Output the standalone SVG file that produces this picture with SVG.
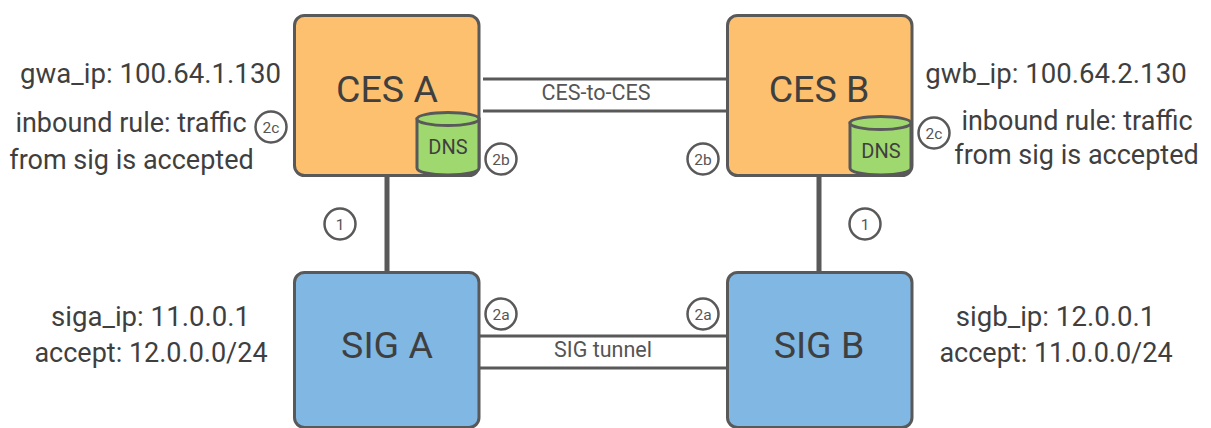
<svg xmlns="http://www.w3.org/2000/svg" width="1211" height="428" viewBox="0 0 1211 428">
<style>
text{font-family:"Roboto","Liberation Sans",sans-serif;fill:#3f3f3f;text-anchor:middle}
.box{stroke:#595959;stroke-width:3}
.ces{fill:#fdc06f}.sig{fill:#80b7e3}
.t{font-size:37.500px}
.l{font-size:27px}
.w{font-size:27.600px}
.c{font-size:21.500px;fill:#555}
.d{font-size:20px}
.line{stroke:#595959;fill:none;stroke-width:3}
.v{stroke:#595959;fill:none;stroke-width:5}
.n{fill:#fff;stroke:#595959;stroke-width:2.500}
.nt{font-size:15.500px;fill:#555}
.db{fill:#a0d870;stroke:#595959;stroke-width:3}
</style>
<rect width="1211" height="428" fill="#fff"/>
<g id="connectors">
<path class="line" d="M483 79H727M483 111H727M479 336H727M479 368H727"/>
<path class="v" d="M387 176V272M819 176V272"/>
</g>
<text class="c" x="596" y="100">CES-to-CES</text>
<text class="c" x="603" y="357">SIG tunnel</text>
<g id="ces-a"><rect class="box ces" x="294.500" y="15.500" width="184.500" height="160" rx="10"/><text class="t" x="387" y="102">CES A</text></g>
<g id="dns-a"><path class="db" d="M417 119V168C417 172 430 175 448 175S479 172 479 168V119Z"/><ellipse class="db" cx="448" cy="119" rx="31" ry="6.500"/><text class="d" x="448" y="154">DNS</text></g>
<g id="ces-b"><rect class="box ces" x="727.500" y="15.500" width="184.500" height="160" rx="10"/><text class="t" x="819" y="102">CES B</text></g>
<g id="dns-b"><path class="db" d="M850 123V168C850 172 863 175 881 175S911 172 911 168V123Z"/><ellipse class="db" cx="880.500" cy="123" rx="30.500" ry="6.500"/><text class="d" x="881" y="158">DNS</text></g>
<g id="sig-a"><rect class="box sig" x="294.500" y="272.500" width="184.500" height="155" rx="10"/><text class="t" x="387" y="358">SIG A</text></g>
<g id="sig-b"><rect class="box sig" x="727.500" y="272.500" width="184.500" height="155" rx="10"/><text class="t" x="819" y="358">SIG B</text></g>
<g id="labels">
<text class="w" x="150.500" y="83">gwa_ip: 100.64.1.130</text>
<text class="l" x="131" y="132">inbound rule: traffic</text>
<text class="l" x="131.500" y="169">from sig is accepted</text>
<text class="w" x="1056" y="83">gwb_ip: 100.64.2.130</text>
<text class="l" x="1077" y="130">inbound rule: traffic</text>
<text class="l" x="1076.500" y="164">from sig is accepted</text>
<text class="w" x="150.500" y="326">siga_ip: 11.0.0.1</text>
<text class="l" x="151" y="362">accept: 12.0.0.0/24</text>
<text class="w" x="1055.500" y="326">sigb_ip: 12.0.0.1</text>
<text class="l" x="1056" y="362">accept: 11.0.0.0/24</text>
</g>
<g id="badges">
<circle class="n" cx="271" cy="127" r="15.500"/><text class="nt" x="271" y="132.500">2c</text>
<circle class="n" cx="501" cy="159" r="15.500"/><text class="nt" x="501" y="164.500">2b</text>
<circle class="n" cx="703" cy="159" r="15.500"/><text class="nt" x="703" y="164.500">2b</text>
<circle class="n" cx="934" cy="133" r="15.500"/><text class="nt" x="934" y="138.500">2c</text>
<circle class="n" cx="340" cy="224" r="15.500"/><text class="nt" x="340" y="229.500">1</text>
<circle class="n" cx="865" cy="224" r="15.500"/><text class="nt" x="865" y="229.500">1</text>
<circle class="n" cx="501" cy="314" r="15.500"/><text class="nt" x="501" y="319.500">2a</text>
<circle class="n" cx="703" cy="314" r="15.500"/><text class="nt" x="703" y="319.500">2a</text>
</g>
</svg>
